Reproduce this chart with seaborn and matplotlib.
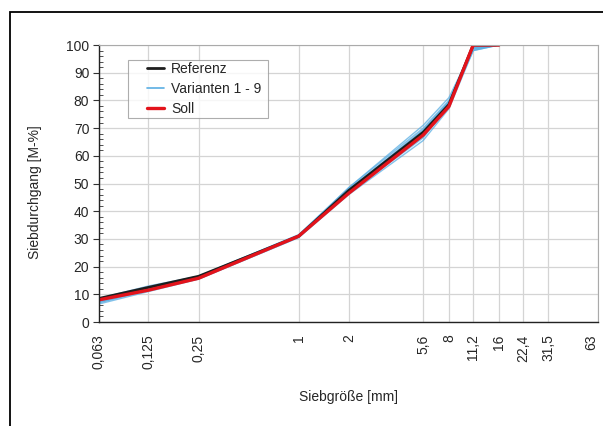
import matplotlib
matplotlib.use("Agg")
import matplotlib.pyplot as plt
import matplotlib.ticker as mticker
import matplotlib.transforms as mtrans
from matplotlib.lines import Line2D
from matplotlib.patches import Rectangle
from matplotlib.legend_handler import HandlerLine2D
import numpy as np
import pandas as pd
import seaborn as sns

sns.set_theme(style="white")
plt.rcParams['font.family'] = ['Liberation Sans', 'DejaVu Sans']

sieve = [0.063, 0.125, 0.25, 1, 2, 5.6, 8, 11.2, 16]
tick_vals = [0.063, 0.125, 0.25, 1, 2, 5.6, 8, 11.2, 16, 22.4, 31.5, 63]
tick_labels = ["0,063", "0,125", "0,25", "1", "2", "5,6", "8", "11,2", "16", "22,4", "31,5", "63"]

referenz = [8.5, 12.5, 16.5, 31.0, 47.5, 68.5, 78.5, 100, 100]
soll = [8.0, 11.5, 15.8, 31.0, 46.5, 67.5, 77.8, 100, 100]
var1 = [6.5, 11.0, 15.5, 30.5, 46.0, 65.5, 77.0, 98.0, 100]
var2 = [7.0, 11.5, 16.0, 31.0, 47.0, 67.0, 78.0, 98.5, 100]
var3 = [7.5, 12.0, 16.0, 31.0, 47.5, 68.0, 79.0, 99.0, 100]
var4 = [8.0, 12.5, 16.5, 31.5, 48.0, 69.0, 79.5, 99.0, 100]
var5 = [8.5, 13.0, 16.5, 31.0, 48.5, 70.0, 80.0, 98.5, 100]
var6 = [7.0, 11.5, 15.5, 30.5, 46.5, 66.5, 78.0, 99.5, 100]
var7 = [7.5, 12.0, 16.0, 31.0, 47.0, 67.5, 78.5, 98.0, 100]
var8 = [8.0, 12.5, 16.5, 31.5, 48.5, 71.0, 81.0, 99.0, 100]
var9 = [7.5, 12.0, 16.0, 31.0, 47.5, 69.5, 79.5, 100, 100]
variants = [var1, var2, var3, var4, var5, var6, var7, var8, var9]

rows = []
for i, v in enumerate(variants):
    for x, y in zip(sieve, v):
        rows.append({"x": x, "y": y, "series": f"V{i+1}"})
df_var = pd.DataFrame(rows)
df_ref = pd.DataFrame({"x": sieve, "y": referenz})
df_soll = pd.DataFrame({"x": sieve, "y": soll})

W, H = 603, 426
fig = plt.figure(figsize=(W / 100, H / 100), dpi=100)
ax = fig.add_axes([99 / W, 1 - 322 / H, (598 - 99) / W, (322 - 45) / H])

# outer frame
fig.patches.append(Rectangle((10 / W, -0.05), 1.2, 1 - 12 / H + 0.05, transform=fig.transFigure,
                             fill=False, edgecolor="black", linewidth=1.3, zorder=0))

blue = "#5aaee3"
sns.lineplot(data=df_var, x="x", y="y", units="series", estimator=None, ax=ax,
             color=blue, linewidth=1.0, alpha=0.75, legend=False)
sns.lineplot(data=df_ref, x="x", y="y", ax=ax, color="#1e1e1e", linewidth=2.0, legend=False)
sns.lineplot(data=df_soll, x="x", y="y", ax=ax, color="#e3131b", linewidth=2.4, legend=False)

ax.set_xscale("log")
ax.set_xlim(0.063, 63)
ax.set_ylim(0, 100)
ax.xaxis.set_major_locator(mticker.FixedLocator(tick_vals))
ax.xaxis.set_minor_locator(mticker.NullLocator())
ax.set_xticks(tick_vals)
ax.set_xticklabels(tick_labels, rotation=90, fontsize=10)
ax.set_yticks(np.arange(0, 101, 10))
ax.yaxis.set_minor_locator(mticker.MultipleLocator(2))
ax.tick_params(axis="y", which="major", direction="out", length=4, width=0.8, color="#333333",
               labelsize=10, pad=3, left=True)
ax.tick_params(axis="y", which="minor", direction="in", length=3, width=0.6, color="#333333", left=True)
ax.tick_params(axis="x", which="major", length=0, pad=9, labelsize=10)

# nudge the last tick label inside the canvas
last = ax.get_xticklabels()[-1]
last.set_transform(last.get_transform() + mtrans.ScaledTranslation(-5 / 72, 0, fig.dpi_scale_trans))

ax.grid(True, which="major", color="#d4d4d4", linewidth=0.9)
for s in ["top", "right"]:
    ax.spines[s].set_color("#aaaaaa")
    ax.spines[s].set_linewidth(0.8)
for s in ["left", "bottom"]:
    ax.spines[s].set_color("#222222")
    ax.spines[s].set_linewidth(1.0)

ax.set_xlabel("Siebgröße [mm]", fontsize=10, labelpad=15)
ax.set_ylabel("Siebdurchgang [M-%]", fontsize=10)
ax.yaxis.set_label_coords((42 - 99) / 499, 1 - (192 - 45) / 277)


class ShiftedLine(HandlerLine2D):
    def get_xdata(self, legend, xdescent, ydescent, width, height, fontsize):
        x0 = -xdescent + 0.5 * width
        x1 = -xdescent + width
        return np.array([x0, x1]), np.array([(x0 + x1) / 2])


handles = [Line2D([], [], color="#1e1e1e", lw=2.0),
           Line2D([], [], color=blue, lw=1.2),
           Line2D([], [], color="#e3131b", lw=2.4)]
leg = ax.legend(handles, ["Referenz", "Varianten 1 - 9", "Soll"], loc="upper left",
                bbox_to_anchor=((128 - 99) / 499, 0.5, 140 / 499, 1 - (60 - 45) / 277 - 0.5),
                mode="expand", handler_map={Line2D: ShiftedLine()},
                fontsize=10, frameon=True, fancybox=False, borderpad=0.15, labelspacing=0.42,
                handlelength=2.45, handletextpad=0.5, borderaxespad=0)
leg.get_frame().set_edgecolor("#999999")
leg.get_frame().set_linewidth(0.8)

fig.savefig("out.png", dpi=100)
